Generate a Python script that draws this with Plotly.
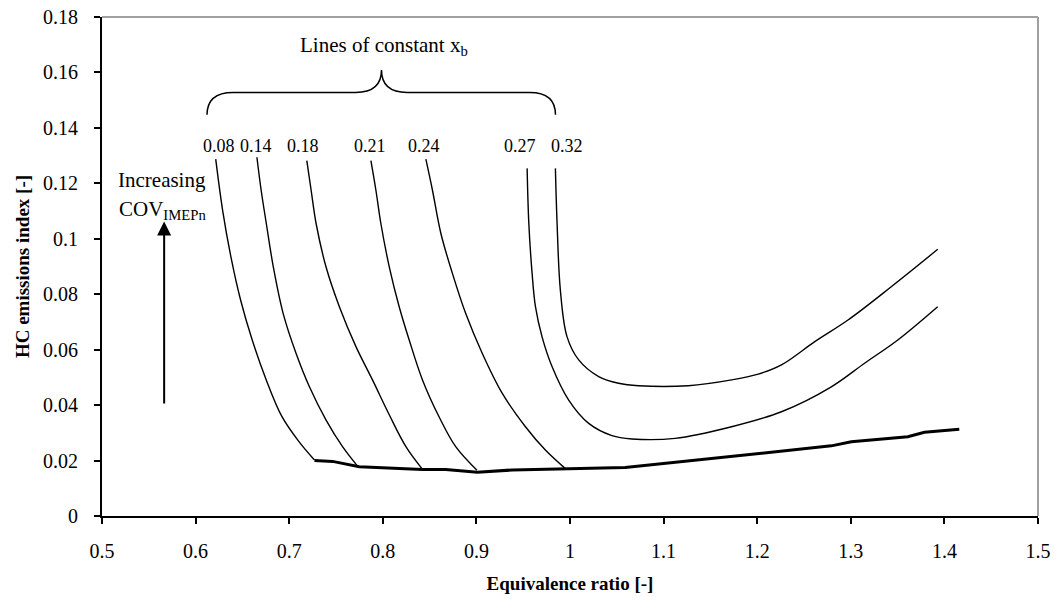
import plotly.graph_objects as go

# ---------------- data ----------------
x_ticks = [0.5, 0.6, 0.7, 0.8, 0.9, 1.0, 1.1, 1.2, 1.3, 1.4, 1.5]
x_tick_labels = ["0.5", "0.6", "0.7", "0.8", "0.9", "1", "1.1", "1.2", "1.3", "1.4", "1.5"]
y_ticks = [0, 0.02, 0.04, 0.06, 0.08, 0.10, 0.12, 0.14, 0.16, 0.18]
y_tick_labels = ["0", "0.02", "0.04", "0.06", "0.08", "0.1", "0.12", "0.14", "0.16", "0.18"]

xb_008_x = [0.6215, 0.629, 0.638, 0.648, 0.660, 0.675, 0.692, 0.710, 0.727]
xb_008_y = [0.1287, 0.110, 0.093, 0.078, 0.0640, 0.0495, 0.0360, 0.0270, 0.0202]

xb_014_x = [0.6655, 0.670, 0.6755, 0.6830, 0.6935, 0.7073, 0.7216, 0.7394, 0.757, 0.773]
xb_014_y = [0.1294, 0.1176, 0.1056, 0.0899, 0.0731, 0.0587, 0.0466, 0.0346, 0.025, 0.0180]

xb_018_x = [0.7188, 0.7234, 0.7287, 0.7393, 0.7536, 0.7713, 0.789, 0.8069, 0.8247, 0.842]
xb_018_y = [0.1282, 0.1176, 0.1056, 0.0899, 0.0755, 0.0611, 0.0491, 0.0365, 0.0250, 0.0170]

xb_021_x = [0.7873, 0.7926, 0.7979, 0.8069, 0.8175, 0.8282, 0.8424, 0.8601, 0.8779, 0.9006]
xb_021_y = [0.1282, 0.1176, 0.1056, 0.0899, 0.0755, 0.0635, 0.0491, 0.0358, 0.025, 0.0165]

xb_024_x = [0.846, 0.853, 0.862, 0.8743, 0.8885, 0.9062, 0.9275, 0.9524, 0.9737, 0.9954]
xb_024_y = [0.1287, 0.1176, 0.102, 0.0876, 0.0731, 0.0587, 0.0443, 0.0322, 0.0238, 0.0170]

xb_027_x = [0.9542, 0.956, 0.9595, 0.9631, 0.9701, 0.9808, 0.9986, 1.02, 1.0448, 1.066,
            1.1123, 1.1726, 1.2259, 1.2792, 1.3147, 1.3502, 1.3928]
xb_027_y = [0.1254, 0.1056, 0.0876, 0.0755, 0.0647, 0.0539, 0.0418, 0.0334, 0.0290, 0.0278,
            0.0280, 0.0322, 0.0376, 0.0466, 0.0551, 0.0635, 0.0755]

xb_032_x = [0.9844, 0.9862, 0.9897, 0.9968, 1.0093, 1.0306, 1.0519, 1.0732, 1.1265, 1.1727,
            1.2011, 1.2259, 1.2615, 1.2970, 1.3432, 1.3929]
xb_032_y = [0.1254, 0.1056, 0.0815, 0.0647, 0.0563, 0.0503, 0.0479, 0.047, 0.047, 0.0491,
            0.0512, 0.0545, 0.0629, 0.0707, 0.0827, 0.0962]

base_x = [0.727, 0.7464, 0.7749, 0.8103, 0.8423, 0.8672, 0.901, 0.9383, 0.995, 1.059,
          1.2792, 1.3005, 1.3609, 1.3787, 1.4159]
base_y = [0.0200, 0.0197, 0.0178, 0.0172, 0.0168, 0.0168, 0.0158, 0.0166, 0.0170, 0.0175,
          0.0253, 0.0268, 0.0286, 0.0302, 0.0313]

xb_labels = ["0.08", "0.14", "0.18", "0.21", "0.24", "0.27", "0.32"]
xb_label_x = [0.6245, 0.664, 0.7145, 0.786, 0.8435, 0.947, 0.997]
xb_label_y = 0.1335

FONT = "Liberation Serif, Times New Roman, serif"

fig = go.Figure()

thin_curves = [
    (xb_008_x, xb_008_y), (xb_014_x, xb_014_y), (xb_018_x, xb_018_y),
    (xb_021_x, xb_021_y), (xb_024_x, xb_024_y), (xb_027_x, xb_027_y),
    (xb_032_x, xb_032_y),
]
for cx, cy in thin_curves:
    fig.add_trace(go.Scatter(x=cx, y=cy, mode="lines",
                             line=dict(color="black", width=1.4, shape="spline", smoothing=1.0),
                             showlegend=False, hoverinfo="skip"))

fig.add_trace(go.Scatter(x=base_x, y=base_y, mode="lines",
                         line=dict(color="black", width=3),
                         showlegend=False, hoverinfo="skip"))

annotations = []
for lab, lx in zip(xb_labels, xb_label_x):
    annotations.append(dict(x=lx, y=xb_label_y, xref="x", yref="y", text=lab,
                            showarrow=False, font=dict(family=FONT, size=18, color="black"),
                            xanchor="center", yanchor="middle"))

annotations.append(dict(x=0.801, y=0.1695, xref="x", yref="y",
                        text="Lines of constant x<sub>b</sub>", showarrow=False,
                        font=dict(family=FONT, size=21, color="black"),
                        xanchor="center", yanchor="middle"))
annotations.append(dict(x=0.564, y=0.1212, xref="x", yref="y", text="Increasing",
                        showarrow=False, font=dict(family=FONT, size=21, color="black"),
                        xanchor="center", yanchor="middle"))
annotations.append(dict(x=0.5155, y=0.1104, xref="x", yref="y", text="COV<sub>IMEPn</sub>",
                        showarrow=False, font=dict(family=FONT, size=21, color="black"),
                        xanchor="left", yanchor="middle"))
annotations.append(dict(x=0.5664, y=0.1062, xref="x", yref="y", text="",
                        showarrow=True, ax=0.5664, ay=0.040, axref="x", ayref="y",
                        arrowhead=2, arrowsize=1.4, arrowwidth=2, arrowcolor="black"))

shapes = [
    # brace
    dict(type="path", xref="x", yref="y",
         path=("M 0.6122,0.1447 Q 0.6122,0.1528 0.640,0.1528 L 0.771,0.1528 "
               "Q 0.7986,0.1528 0.7986,0.1609 Q 0.7986,0.1528 0.826,0.1528 "
               "L 0.957,0.1528 Q 0.9845,0.1528 0.9845,0.1447"),
         line=dict(color="black", width=1.5)),
    # gray frame top and right
    dict(type="line", xref="paper", yref="paper", x0=0, x1=1, y0=1, y1=1,
         line=dict(color="#a0a0a0", width=2)),
    dict(type="line", xref="paper", yref="paper", x0=1, x1=1, y0=0, y1=1,
         line=dict(color="#a0a0a0", width=2)),
]

fig.update_layout(
    width=1063, height=610,
    margin=dict(l=102, r=25, t=17, b=94, pad=0),
    paper_bgcolor="white", plot_bgcolor="white",
    font=dict(family=FONT, size=20, color="black"),
    annotations=annotations, shapes=shapes,
    showlegend=False,
)
fig.update_xaxes(range=[0.5, 1.5], tickvals=x_ticks, ticktext=x_tick_labels,
                 showgrid=False, zeroline=False, showline=True, linecolor="black", linewidth=2,
                 ticks="outside", ticklen=6, tickwidth=1.5, tickcolor="black",
                 ticklabelstandoff=10, automargin=False, ticklabeloverflow="allow",
                 tickfont=dict(family=FONT, size=20),
                 title=dict(text="<b>Equivalence ratio [-]</b>", standoff=16,
                            font=dict(family=FONT, size=19)))
fig.update_yaxes(range=[0, 0.18], tickvals=y_ticks, ticktext=y_tick_labels,
                 showgrid=False, zeroline=False, showline=True, linecolor="black", linewidth=2,
                 ticks="outside", ticklen=6, tickwidth=1.5, tickcolor="black",
                 ticklabelstandoff=12, automargin=False, ticklabeloverflow="allow",
                 tickfont=dict(family=FONT, size=20),
                 title=dict(text="<b>HC emissions index [-]</b>", standoff=8,
                            font=dict(family=FONT, size=19)))

# remove the browser's default 8px page margin so the figure fills the window
fig.write_html("out.html",
               config={"displayModeBar": False},
               post_script="document.body.style.margin='0';document.body.style.overflow='hidden';")
